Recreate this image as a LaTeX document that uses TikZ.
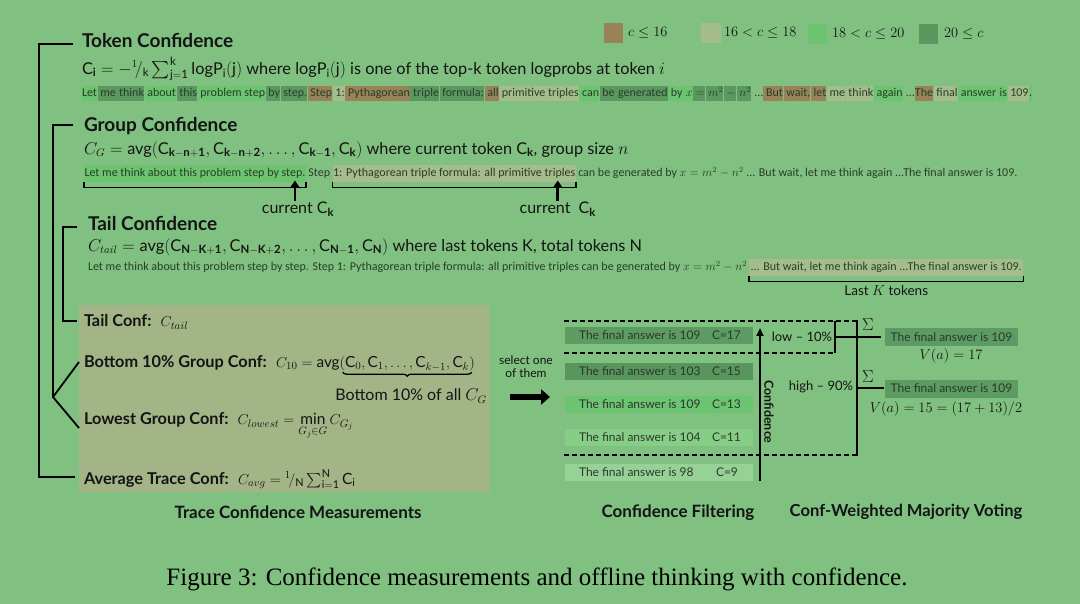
\documentclass[tikz,border=0pt]{standalone}
\usepackage{amsmath}
\usepackage{fontspec}
\setmainfont{Lato}
\newfontfamily\tokfont{Carlito}
\newfontfamily\capfont{Liberation Serif}
\usetikzlibrary{arrows.meta,decorations.pathreplacing,calc}
\definecolor{bg}{RGB}{128,192,128}
\definecolor{cbrown}{RGB}{152,130,88}
\definecolor{clight}{RGB}{165,188,140}
\definecolor{cbright}{RGB}{108,196,112}
\definecolor{cdark}{RGB}{90,152,96}
\definecolor{boxgray}{RGB}{163,181,135}
\definecolor{barA}{RGB}{92,156,98}
\definecolor{barB}{RGB}{88,150,94}
\definecolor{barC}{RGB}{108,196,112}
\definecolor{barD}{RGB}{134,206,134}
\definecolor{barE}{RGB}{150,210,150}
\definecolor{tokcol}{RGB}{40,62,40}
\definecolor{barcol}{RGB}{45,55,45}
\definecolor{ink}{RGB}{20,20,20}
\newcommand{\fsz}[1]{\fontsize{#1}{#1}\selectfont}
\newcommand{\tkstrut}{\rule[-4pt]{0pt}{14.5pt}}
\newcommand{\tk}[2]{\colorbox{#1}{\tkstrut#2}\hspace{0.6pt}}
\newcommand{\Cb}[1]{\mathrm{C}_{\mathbf{#1}}}
\setlength{\fboxsep}{0pt}
\begin{document}
\begin{tikzpicture}[x=1pt,y=-1pt,
  every node/.style={inner sep=0pt, outer sep=0pt, text=ink},
  brk/.style={line width=2.6pt, black},
  headn/.style={font=\bfseries\fsz{19}, anchor=west},
  formn/.style={font=\fsz{16.3}, anchor=west},
  tokline/.style={font=\tokfont\fsz{12}, anchor=base west, text=tokcol, text height=10pt, text depth=4pt, inner ysep=1.5pt},
  ubr/.style={line width=1.6pt, black},
  uparr/.style={line width=2.6pt, black, -{Triangle[length=7pt,width=9pt]}},
  lbl/.style={font=\bfseries\fsz{16.3}, anchor=west},
  legt/.style={font=\fsz{14.5}, anchor=west},
  barbox/.style={minimum width=188pt, minimum height=17pt, anchor=west},
  bart/.style={font=\fsz{12}, text=barcol, anchor=west},
  dsh/.style={line width=1.5pt, dash pattern=on 5pt off 3pt},
  sect/.style={font=\bfseries\fsz{17}, anchor=center}
]
\fill[bg] (0,0) rectangle (1080,604);
\useasboundingbox (0,0) rectangle (1080,604);

% legend
\node[fill=cbrown, minimum width=19pt, minimum height=20pt] (lg1) at (613.5,33) {};
\node[legt] (lt1) at (628,33) {$c \le 16$};
\node[fill=clight, minimum width=20pt, minimum height=20pt] (lg2) at (711,33) {};
\node[legt] (lt2) at (724,33) {$16 < c \le 18$};
\node[fill=cbright, minimum width=19pt, minimum height=20pt] (lg3) at (817.5,34) {};
\node[legt] (lt3) at (832,34) {$18 < c \le 20$};
\node[fill=cdark, minimum width=19pt, minimum height=20pt] (lg4) at (928.5,34) {};
\node[legt] (lt4) at (944,34) {$20 \le c$};

% bottom-left gray box
\fill[boxgray] (79,305) rectangle (490,492);

% Token confidence
\node[headn] (th) at (82,41) {Token Confidence};
\node[formn] (tf) at (82,69) {$\Cb{i} = -{}^{1}\!/_{\mathrm{k}}\sum_{\mathrm{j=1}}^{\mathrm{k}}\mathrm{logP}_{\mathrm{i}}(\mathrm{j})$ where $\mathrm{logP}_{\mathrm{i}}(\mathrm{j})$ is one of the top-k token logprobs at token $i$};
\node[tokline, inner ysep=0pt, text height=, text depth=] (tl) at (82,97) {\tk{cbright}{Let}\tk{cdark}{\ me}\tk{cdark}{\ think}\tk{cbright}{\ about}\tk{cdark}{\ this}\tk{cbright}{\ problem step}\tk{cdark}{\ by}\tk{cdark}{\ step.}\tk{cbrown}{\ Step}\tk{clight}{\ 1:}\tk{cbrown}{\ Pythagorean}\tk{cdark}{\ triple}\tk{cdark}{\ formula:}\tk{cbrown}{\ all}\tk{clight}{\ primitive triples}\tk{cbright}{\ can}\tk{cdark}{\ be}\tk{cdark}{\ generated}\tk{cbright}{\ by}\tk{cbright}{\ $x$}\tk{cdark}{\ $=$}\tk{cdark}{\ $m^2$}\tk{cdark}{\ $-$}\tk{cdark}{\ $n^2$}\ ...\tk{cbrown}{\ But}\tk{cbrown}{\ wait,}\tk{cbrown}{\ let}\tk{clight}{\ me}\tk{clight}{\ think}\tk{cbright}{\ again}\ ...\tk{cbrown}{The}\tk{clight}{\ final}\tk{cbright}{\ answer}\tk{cbright}{\ is}\tk{clight}{\ 109}\tk{cbright}{.}};

% Group confidence
\node[headn] (gh) at (84,126) {Group Confidence};
\node[formn] (gf) at (84,150) {$C_G = \text{avg}(\Cb{k-n+1}, \Cb{k-n+2}, \dots, \Cb{k-1}, \Cb{k})$ where current token $\Cb{k}$, group size $n$};
\node[tokline, fill=cbright, inner xsep=0.5pt] (g1) at (84,177) {Let me think about this problem step by step.};
\node[tokline, inner xsep=2.5pt] (g2) at (g1.base east) {Step};
\node[tokline, fill=clight, inner xsep=0.5pt] (g3) at (g2.base east) {1: Pythagorean triple formula: all primitive triples};
\node[tokline, inner xsep=2.5pt] (g4) at (g3.base east) {can be generated by $x = m^2 - n^2$ ... But wait, let me think again ...The final answer is 109.};
\draw[ubr] (g1.south west) -- ++(0,5) -| (g1.south east);
\draw[ubr] (g3.south west) -- ++(0,5) -| (g3.south east);
\node[font=\fsz{16}, anchor=center] (c1) at ($(g1.south east)+(-8,27)$) {current $\Cb{k}$};
\node[font=\fsz{16}, anchor=center] (c2) at ($(g3.south east)+(-18,27)$) {current \ $\Cb{k}$};
\coordinate (a1s) at ($(g1.south east)+(-11,19)$);
\coordinate (a1e) at ($(g1.south east)+(-11,-2)$);
\coordinate (a2s) at ($(g3.south east)+(-18,19)$);
\coordinate (a2e) at ($(g3.south east)+(-18,-2)$);
\draw[uparr] (a1s) -- (a1e);
\draw[uparr] (a2s) -- (a2e);

% Tail confidence
\node[headn] (tah) at (88,224) {Tail Confidence};
\node[formn] (taf) at (88,247) {$C_{tail} = \text{avg}(\Cb{N-K+1}, \Cb{N-K+2}, \dots, \Cb{N-1}, \Cb{N})$ where last tokens $\mathrm{K}$, total tokens $\mathrm{N}$};
\node[tokline, inner xsep=0pt] (t1) at (88,271) {Let me think about this problem step by step. Step 1: Pythagorean triple formula: all primitive triples can be generated by $x = m^2 - n^2$};
\node[tokline, fill=clight, inner xsep=1.5pt] (t2) at ($(t1.base east)+(2,0)$) {... But wait, let me think again ...The final answer is 109.};
\draw[ubr] (t2.south west) -- ++(0,5) -| (t2.south east);
\node[font=\fsz{13.5}, anchor=center] (lk) at ($(t2.south)+(0,14)$) {Last $K$ tokens};

% brackets on the left
\coordinate (o1) at (73,44); \coordinate (o2) at (39,44);
\coordinate (o3) at (39,477); \coordinate (o4) at (75,477);
\draw[brk] (o1) -- (o2) -- (o3) -- (o4);
\coordinate (p1) at (73,125); \coordinate (p2) at (53,125);
\coordinate (pj) at (53,397); \coordinate (pu) at (79,362); \coordinate (pd) at (79,428);
\draw[brk] (p1) -- (p2) -- (pj);
\draw[line width=1.8pt] (pu) -- (pj) -- (pd);
\coordinate (q1) at (77,227); \coordinate (q2) at (63,227);
\coordinate (q3) at (63,321); \coordinate (q4) at (77,321);
\draw[brk] (q1) -- (q2) -- (q3) -- (q4);

% measurements in the box
\node[lbl] (m1) at (84,322) {Tail Conf: \ \mdseries{\fsz{15.5}$C_{tail}$}};
\node[lbl] (m2) at (84,363) {Bottom 10\% Group Conf: \ \mdseries{\fsz{15.3}$C_{10} = \text{avg}$}};
\node[font=\fsz{15.3}, anchor=base west] (m2b) at (m2.base east) {$(\mathrm{C}_{0}, \mathrm{C}_{1}, \dots, \mathrm{C}_{k-1}, \mathrm{C}_{k})$};
\draw[line width=1.3pt, decorate, decoration={brace, mirror, amplitude=4pt}] ($(m2b.south west)+(3,1)$) -- ($(m2b.south east)+(-3,1)$);
\node[font=\fsz{16}, anchor=center] (m2c) at (411,396) {Bottom 10\% of all $C_G$};
\node[lbl] (m3) at (84,426) {Lowest Group Conf: \ \mdseries{\fsz{15.5}$C_{lowest} = \displaystyle\min_{\rule{0pt}{7pt}G_j\in G} C_{G_j}$}};
\node[lbl] (m4) at (84,479) {Average Trace Conf: \ \mdseries{\fsz{15.5}$C_{avg} = {}^{1}\!/_{\mathrm{N}}\sum_{\mathrm{i=1}}^{\mathrm{N}}\mathrm{C}_{\mathrm{i}}$}};
\node[sect] (s1) at (298,512) {Trace Confidence Measurements};

% select one
\node[font=\fsz{12}, align=center, anchor=center] (sel) at (526,367) {select one\\[1pt]of them};
\coordinate (sa) at (510,397); \coordinate (sb) at (550,397);
\draw[line width=6pt, -{Triangle[length=9pt,width=15pt]}] (sa) -- (sb);

% bars
\node[barbox, fill=barA] (b1) at (565,335.5) {};
\node[barbox, fill=barB] (b2) at (565,371) {};
\node[barbox, fill=barC] (b3) at (565,404) {};
\node[barbox, fill=barD] (b4) at (565,437) {};
\node[barbox, fill=barE] (b5) at (565,472.5) {};
\node[bart] (b1t) at (579,335.5) {The final answer is 109};
\node[bart] (b1c) at (712,335.5) {C=17};
\node[bart] (b2t) at (579,371) {The final answer is 103};
\node[bart] (b2c) at (712,371) {C=15};
\node[bart] (b3t) at (579,404) {The final answer is 109};
\node[bart] (b3c) at (712,404) {C=13};
\node[bart] (b4t) at (579,437) {The final answer is 104};
\node[bart] (b4c) at (712,437) {C=11};
\node[bart] (b5t) at (579,472.5) {The final answer is 98};
\node[bart] (b5c) at (716,472.5) {C=9};

% dashed lines and brackets
\coordinate (d1a) at (564,321); \coordinate (d1b) at (857,321);
\coordinate (d2a) at (564,353); \coordinate (d2b) at (835,353);
\coordinate (d3a) at (564,455); \coordinate (d3b) at (857,455);
\draw[dsh] (d1a) -- (d1b);
\draw[dsh] (d2a) -- (d2b);
\draw[dsh] (d3a) -- (d3b);
\coordinate (lv1) at (835,321); \coordinate (lv2) at (835,353);
\draw[line width=1.8pt] (lv1) -- (lv2);
\coordinate (hv1) at (857,320); \coordinate (hv2) at (857,456);
\draw[line width=1.8pt] (hv1) -- (hv2);
\coordinate (lh1) at (835,337); \coordinate (lh2) at (881,337);
\draw[line width=1.8pt] (lh1) -- (lh2);
\coordinate (hh1) at (857,388); \coordinate (hh2) at (884,388);
\draw[line width=1.8pt] (hh1) -- (hh2);

% confidence arrow
\coordinate (ca1) at (760,481); \coordinate (ca2) at (760,328);
\draw[line width=2pt, -{Triangle[length=8pt,width=7pt]}] (ca1) -- (ca2);
\node[font=\bfseries\fsz{12.5}, rotate=-90, anchor=center] (conf) at (769,412) {Confidence};
\node[font=\fsz{13}, anchor=center] (low) at (802,337) {low -- 10\%};
\node[font=\fsz{13}, anchor=center] (high) at (821,387) {high -- 90\%};

% voting
\node[font=\fsz{17}] (sg1) at (868,325) {$\Sigma$};
\node[font=\fsz{17}] (sg2) at (868,377) {$\Sigma$};
\node[fill=barA, minimum width=133pt, minimum height=18pt, anchor=west, font=\fsz{12}, text=barcol] (r1) at (885,337) {The final answer is 109};
\node[fill=barA, minimum width=133pt, minimum height=18pt, anchor=west, font=\fsz{12}, text=barcol] (r2) at (885,388.5) {The final answer is 109};
\node[font=\fsz{15.5}] (v1) at (951,356) {$V(a) = 17$};
\node[font=\fsz{15}] (v2) at (946,409) {$V(a) = 15 = (17 + 13)/2$};

\node[sect] (s2) at (678,513) {Confidence Filtering};
\node[sect, font=\bfseries\fsz{16.6}] (s3) at (906,512) {Conf-Weighted Majority Voting};

% caption
\node[font=\capfont\fsz{25}, anchor=center, text=black] (cap) at (537,579) {Figure 3: Confidence measurements and offline thinking with confidence.};
\end{tikzpicture}
\end{document}
